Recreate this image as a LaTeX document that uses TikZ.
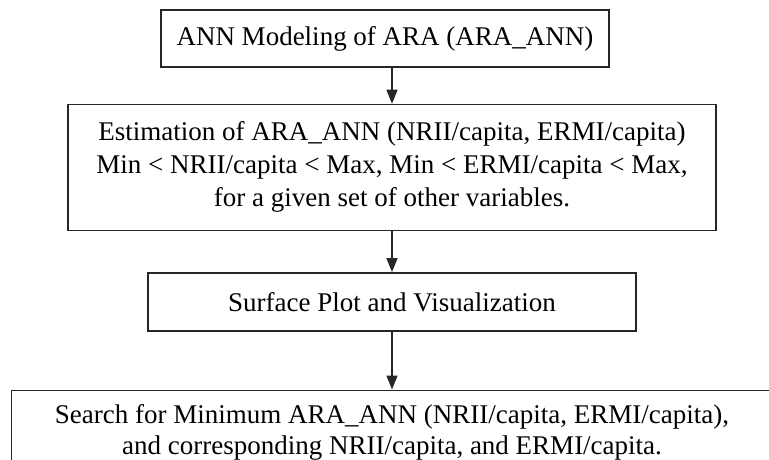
\documentclass[tikz,border=0pt]{standalone}
\usepackage{fontspec}
\setmainfont{Liberation Serif}
\usetikzlibrary{positioning,arrows.meta}

\begin{document}
\begin{tikzpicture}[
  node distance=36pt,
  stage/.style={rectangle,draw=black!85,line width=1.4pt,align=center,
                inner sep=0pt,font=\fontsize{27}{33}\selectfont},
  arr/.style  ={-{Triangle[length=14pt,width=11pt]},line width=1.4pt,black!85}
]
\useasboundingbox (0,0) rectangle (769pt,-459pt);

\node[stage,minimum width=448pt,minimum height=57pt] (ann) at (385pt,-38.5pt)
  {ANN Modeling of ARA (ARA\_ANN)};
\node[stage,minimum width=648pt,minimum height=126pt,below=36pt of ann,xshift=7pt] (est)
  {Estimation of ARA\_ANN (NRII/capita, ERMI/capita)\\
   Min < NRII/capita < Max, Min < ERMI/capita < Max,\\
   for a given set of other variables.};
\node[stage,minimum width=488pt,minimum height=58pt,below=41pt of est] (surf)
  {Surface Plot and Visualization};
\node[stage,minimum width=761pt,minimum height=84pt,below=58pt of surf,
      font=\fontsize{27}{31}\selectfont] (search)
  {Search for Minimum ARA\_ANN (NRII/capita, ERMI/capita),\\
   and corresponding NRII/capita, and ERMI/capita.};

\draw[arr] (est.north |- ann.south) -- (est);
\draw[arr] (est)  -- (surf);
\draw[arr] (surf) -- (search);

\end{tikzpicture}
\end{document}
